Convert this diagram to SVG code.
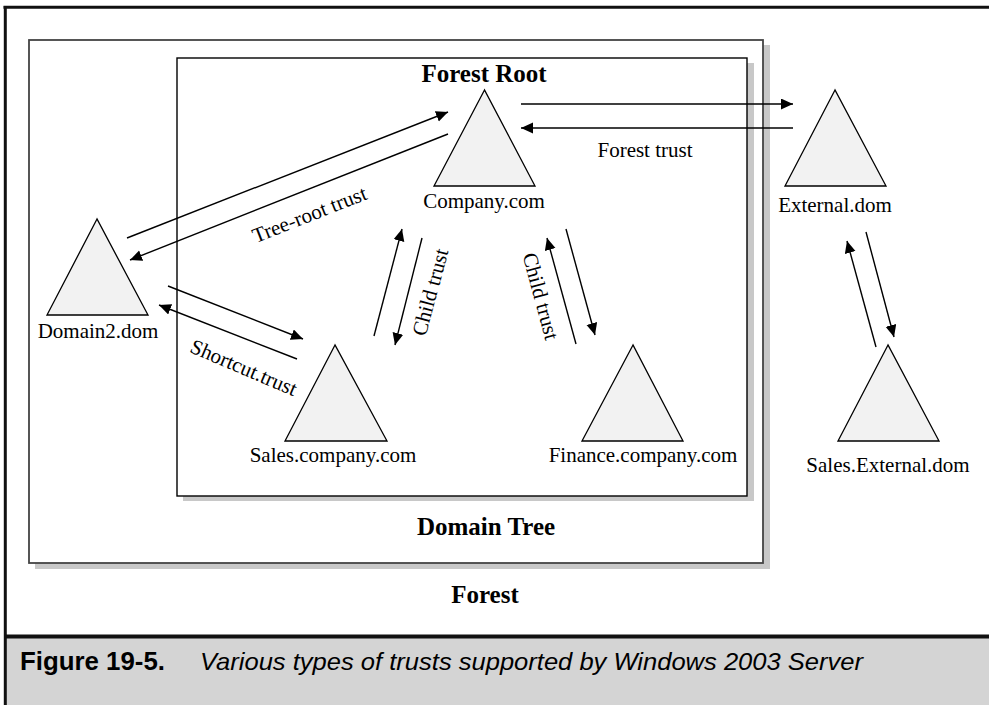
<svg xmlns="http://www.w3.org/2000/svg" width="989" height="705" viewBox="0 0 989 705">
<style>
.lbl{font-family:"Liberation Serif","Times New Roman",serif;font-size:21px;fill:#000;text-anchor:middle}
.big{font-family:"Liberation Serif","Times New Roman",serif;font-size:25px;font-weight:bold;fill:#000;text-anchor:middle}
.tri{fill:#f2f2f2;stroke:#000;stroke-width:1.3}
.con{stroke:#000;stroke-width:1.4;fill:none;marker-end:url(#ah)}
.shadow{fill:#c8c8c8}
</style>
<defs>
<marker id="ah" markerUnits="userSpaceOnUse" markerWidth="13" markerHeight="12" refX="12" refY="5.5" orient="auto">
<path d="M0,0 L12,5.5 L0,11 z" fill="#000"/>
</marker>
</defs>
<rect x="0" y="0" width="989" height="705" fill="#fff"/>
<!-- caption bar -->
<rect x="5" y="638" width="984" height="67" fill="#d4d4d4"/>
<line x1="5" y1="636.5" x2="989" y2="636.5" stroke="#111" stroke-width="4"/>
<line x1="3.5" y1="7.3" x2="989" y2="7.3" stroke="#111" stroke-width="3"/>
<line x1="5.3" y1="6" x2="5.3" y2="705" stroke="#111" stroke-width="3"/>
<text x="20" y="670" font-family="Liberation Sans, Arial, sans-serif" font-size="25" font-weight="bold" textLength="145" lengthAdjust="spacingAndGlyphs">Figure 19-5.</text>
<text x="200" y="670" font-family="Liberation Sans, Arial, sans-serif" font-size="24" font-style="italic" textLength="663" lengthAdjust="spacingAndGlyphs">Various types of trusts supported by Windows 2003 Server</text>

<g id="forest">
<rect class="shadow" x="35" y="45" width="735" height="524"/>
<rect x="29" y="40" width="734" height="523" fill="#fff" stroke="#444" stroke-width="1.8"/>
<text class="big" x="485" y="603">Forest</text>
</g>
<g id="domain-tree">
<rect class="shadow" x="183" y="63" width="571" height="438"/>
<rect x="177" y="58" width="570" height="438" fill="#fff" stroke="#000" stroke-width="1.4"/>
<text class="big" x="486" y="535">Domain Tree</text>
<text class="big" x="484" y="82">Forest Root</text>
</g>

<g id="connectors">
<line class="con" x1="127" y1="238" x2="448" y2="112"/>
<line class="con" x1="448" y1="134" x2="130" y2="260"/>
<line class="con" x1="521" y1="104" x2="793" y2="104"/>
<line class="con" x1="793" y1="128" x2="521" y2="128"/>
<line class="con" x1="168" y1="286" x2="303" y2="339"/>
<line class="con" x1="297" y1="359" x2="159" y2="305"/>
<line class="con" x1="374" y1="336" x2="402" y2="229"/>
<line class="con" x1="422" y1="238" x2="395" y2="345"/>
<line class="con" x1="576" y1="344" x2="547" y2="238"/>
<line class="con" x1="566" y1="229" x2="595" y2="335"/>
<line class="con" x1="876" y1="347" x2="847" y2="241"/>
<line class="con" x1="866" y1="232" x2="894" y2="337"/>
<text class="lbl" transform="translate(312,221) rotate(-21.5)">Tree-root trust</text>
<text class="lbl" x="645" y="157">Forest trust</text>
<text class="lbl" transform="translate(241,374) rotate(23)">Shortcut.trust</text>
<text class="lbl" transform="translate(437,294) rotate(-75)">Child trust</text>
<text class="lbl" transform="translate(534,298) rotate(75)">Child trust</text>
</g>

<g id="company">
<polygon class="tri" points="484.5,90 434,186 535,186"/>
<text class="lbl" x="484" y="208">Company.com</text>
</g>
<g id="external">
<polygon class="tri" points="835,90 785,186 886,186"/>
<text class="lbl" x="835" y="212">External.dom</text>
</g>
<g id="domain2">
<polygon class="tri" points="97,219 47,315 148,315"/>
<text class="lbl" x="98" y="338">Domain2.dom</text>
</g>
<g id="sales">
<polygon class="tri" points="335,345 285,441 387,441"/>
<text class="lbl" x="333" y="462">Sales.company.com</text>
</g>
<g id="finance">
<polygon class="tri" points="633,345 582,441 683,441"/>
<text class="lbl" x="643" y="462">Finance.company.com</text>
</g>
<g id="sales-external">
<polygon class="tri" points="888,345 838,441 939,441"/>
<text class="lbl" x="888" y="472">Sales.External.dom</text>
</g>
</svg>
